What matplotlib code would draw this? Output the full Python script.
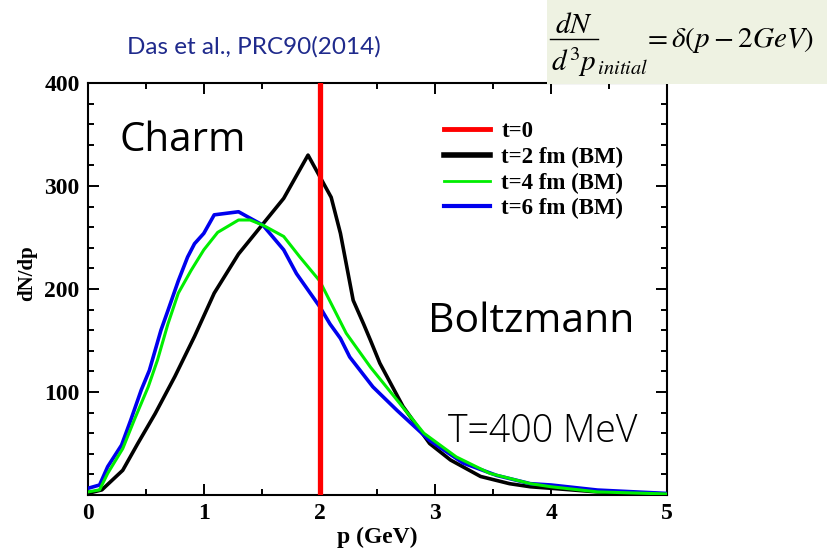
import matplotlib
matplotlib.use("Agg")
import matplotlib.pyplot as plt
from matplotlib.lines import Line2D
from matplotlib.patches import Rectangle
from matplotlib.ticker import MultipleLocator

W, H = 828, 549

# ---- data ----
p_bm2 = [0, 0.12, 0.3, 0.43, 0.58, 0.75, 0.92, 1.09, 1.3, 1.69, 1.9, 2.1,
         2.18, 2.29, 2.38, 2.44, 2.52, 2.72, 2.95, 3.13, 3.39, 3.64, 3.82, 4.0, 4.4, 5.0]
y_bm2 = [1.6, 5, 24, 50, 79, 115, 154, 196, 234, 288, 330, 289,
         254, 189, 166, 150, 128, 86, 50, 34, 18, 11, 8, 6.5, 3, 1]

p_bm4 = [0, 0.1, 0.17, 0.3, 0.4, 0.52, 0.6, 0.69, 0.78, 0.89, 1.0, 1.12, 1.3, 1.4,
         1.51, 1.69, 1.83, 2.0, 2.23, 2.44, 2.67, 2.9, 3.18, 3.47, 3.82, 4.0, 4.4, 5.0]
y_bm4 = [3, 5, 21, 45, 73, 105, 131, 166, 196, 218, 238, 255, 267, 267,
         262, 251, 231, 208, 157, 124, 92, 60, 37, 21, 11, 8, 3, 1]

p_bm6 = [0, 0.1, 0.17, 0.29, 0.37, 0.46, 0.53, 0.63, 0.69, 0.78, 0.86, 0.92, 1.0, 1.09,
         1.3, 1.38, 1.51, 1.69, 1.8, 2.0, 2.09, 2.18, 2.26, 2.46, 2.67, 2.95, 3.24,
         3.53, 3.82, 4.0, 4.4, 5.0]
y_bm6 = [6.5, 9.7, 27.5, 48.5, 73, 102, 121, 160, 179, 208, 231, 244, 254, 272,
         275, 270, 262, 238, 215, 183, 166, 152, 134, 105, 82, 53, 31,
         19, 11, 9.7, 4.8, 1.5]

p_initial = 2.0
labels = ["t=0", "t=2 fm (BM)", "t=4 fm (BM)", "t=6 fm (BM)"]
x_ticks = [0, 1, 2, 3, 4, 5]
y_ticks = [100, 200, 300, 400]

# ---- figure ----
fig = plt.figure(figsize=(W / 100, H / 100), dpi=100)

def fx(x):
    return x / W

def fy(y):
    return 1 - y / H

ax_l, ax_r, ax_t, ax_b = 88, 667, 83, 495
ax = fig.add_axes([fx(ax_l), fy(ax_b), fx(ax_r) - fx(ax_l), fy(ax_t) - fy(ax_b)])

serif = "Liberation Serif"

ax.plot(p_bm2, y_bm2, color="black", lw=2.6, zorder=3)
ax.plot(p_bm4, y_bm4, color="#00ee00", lw=2.2, zorder=4)
ax.plot(p_bm6, y_bm6, color="#0000ee", lw=2.6, zorder=3)
ax.axvline(p_initial, color="#ff0000", lw=3.8, zorder=5)

ax.set_xlim(0, 5)
ax.set_ylim(0, 400)
ax.set_xticks(x_ticks)
ax.set_yticks(y_ticks)
ax.xaxis.set_minor_locator(MultipleLocator(0.5))
ax.yaxis.set_minor_locator(MultipleLocator(20))
ax.tick_params(which="both", direction="in", top=True, right=True, width=1.4,
               labelsize=17, pad=6)
ax.tick_params(which="major", length=8)
ax.tick_params(which="minor", length=4.5)
for lab in ax.get_xticklabels() + ax.get_yticklabels():
    lab.set_fontfamily(serif)
    lab.set_fontweight("bold")
for s in ax.spines.values():
    s.set_linewidth(1.5)

ax.set_xlabel("p (GeV)", fontfamily=serif, fontweight="bold", fontsize=17, labelpad=2)
fig.text(fx(27), fy(273), "dN/dp", rotation=90, ha="center", va="center",
         fontfamily=serif, fontweight="bold", fontsize=15)

handles = [
    Line2D([], [], color="#ff0000", lw=3.5),
    Line2D([], [], color="black", lw=4.0),
    Line2D([], [], color="#00ee00", lw=2.0),
    Line2D([], [], color="#0000ee", lw=3.0),
]
leg = ax.legend(handles, labels, loc="upper left",
                bbox_to_anchor=(fx(435), fy(112)), bbox_transform=fig.transFigure,
                frameon=False, handlelength=2.0, handletextpad=0.5,
                labelspacing=0.2, borderaxespad=0,
                prop={"family": serif, "weight": "bold", "size": 16.5})

# annotations
fig.text(fx(120), fy(141), "Charm", fontfamily="Open Sans", fontsize=29,
         ha="left", va="center", color="black")
fig.text(fx(428), fy(322), "Boltzmann", fontfamily="Open Sans", fontsize=29.5,
         ha="left", va="center", color="black")
fig.text(fx(448), fy(432), "T=400 MeV", fontfamily="Open Sans", fontweight="light",
         fontsize=27, ha="left", va="center", color="black")
fig.text(fx(127), fy(47), "Das et al., PRC90(2014)",
         fontfamily="Lato", fontsize=17.5,
         ha="left", va="center", color="#1f2a8c")

# formula box
fig.patches.append(Rectangle((fx(547), fy(84)), fx(828) - fx(547), fy(0) - fy(84),
                             transform=fig.transFigure, facecolor="#eef2e2",
                             edgecolor="none", zorder=10))
plt.rcParams["mathtext.fontset"] = "stix"
fig.text(fx(574), fy(25), r"$dN$", fontsize=21, ha="center", va="center", zorder=11)
fig.add_artist(Line2D([fx(550), fx(598)], [fy(39), fy(39)], transform=fig.transFigure,
                      color="black", lw=1.0, zorder=11))
fig.text(fx(551), fy(62), r"$d^3p_{\,initial}$", fontsize=21, ha="left", va="center", zorder=11)
fig.text(fx(643), fy(40), r"$=\delta\left(p-2GeV\right)$", fontsize=21, ha="left",
         va="center", zorder=11)

fig.savefig("out.png", dpi=100)
